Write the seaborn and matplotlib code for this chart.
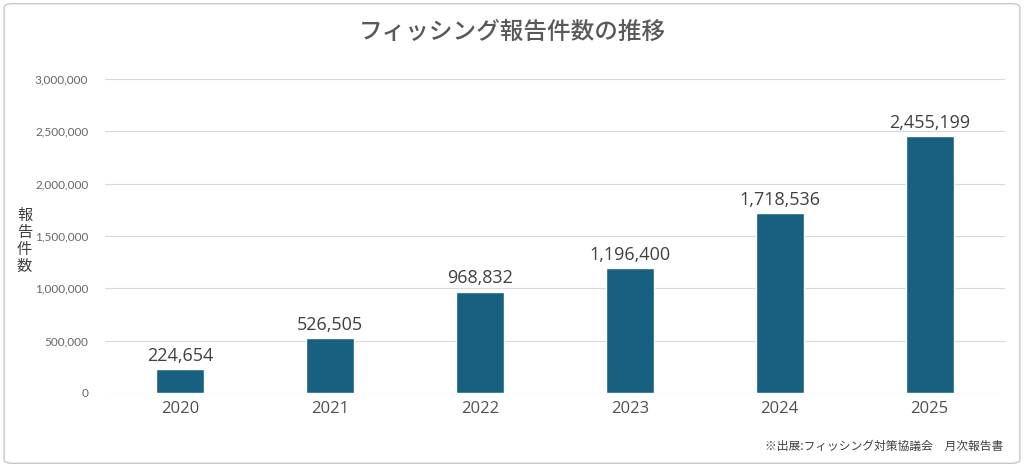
import pandas as pd
import matplotlib
matplotlib.use("Agg")
import matplotlib.pyplot as plt
import seaborn as sns
from matplotlib.patches import FancyBboxPatch
from matplotlib.ticker import FuncFormatter

# data
years = ["2020", "2021", "2022", "2023", "2024", "2025"]
reports = [224654, 526505, 968832, 1196400, 1718536, 2455199]
y_ticks = [0, 500000, 1000000, 1500000, 2000000, 2500000, 3000000]

df = pd.DataFrame({"year": years, "reports": reports})

sns.set_style("white")
plt.rcParams['font.family'] = ['Noto Sans CJK JP', 'DejaVu Sans']

fig = plt.figure(figsize=(10.24, 4.67), dpi=100)
ax = fig.add_axes([0.1025, 0.1585, 0.8785, 0.6725])

sns.barplot(data=df, x="year", y="reports", color="#17607f", width=0.32,
            saturation=1, ax=ax)

ax.set_ylim(0, 3000000)
ax.set_xlim(-0.5, 5.5)
ax.set_yticks(y_ticks)
ax.yaxis.set_major_formatter(FuncFormatter(lambda v, p: f"{int(v):,}"))
ax.grid(axis="y", color="#d9d9d9", linewidth=0.8)
ax.set_axisbelow(True)
for s in ax.spines.values():
    s.set_visible(False)
ax.tick_params(axis="y", length=0, labelsize=8.5, labelcolor="#666666", pad=12)
ax.tick_params(axis="x", length=0, labelsize=12, labelcolor="#505050", pad=6)
for lbl in ax.get_yticklabels():
    lbl.set_family(['Lato', 'DejaVu Sans'])
for lbl in ax.get_xticklabels():
    lbl.set_family(['Open Sans', 'DejaVu Sans'])
ax.set_xlabel("")
ax.set_ylabel("")

# value labels above bars
for i, v in enumerate(reports):
    ax.annotate(f"{v:,}", (i, v), xytext=(0, 3), textcoords="offset points",
                ha="center", va="bottom", fontsize=13, color="#404040",
                family=['Open Sans', 'DejaVu Sans'])

fig.text(0.5, 0.93, "フィッシング報告件数の推移", ha="center", va="center",
         fontsize=17, color="#595959", fontweight="medium")
fig.text(0.024, 0.485, "\n".join("報告件数"), ha="center", va="center",
         fontsize=11, color="#404040", linespacing=1.0)
fig.text(0.98, 0.045, "※出展:フィッシング対策協議会　月次報告書", ha="right",
         va="center", fontsize=8.5, color="#404040")

# rounded border around the whole chart
border = FancyBboxPatch((0.004, 0.008), 0.992, 0.984, boxstyle="round,pad=0,rounding_size=0.008",
                        transform=fig.transFigure, fill=False, edgecolor="#c8c8c8", linewidth=1)
fig.patches.append(border)

fig.savefig("out.png", dpi=100)
